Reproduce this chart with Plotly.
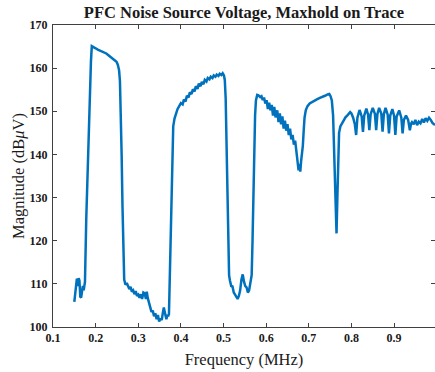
import plotly.graph_objects as go

title_text = "PFC Noise Source Voltage, Maxhold on Trace"
x_title = "Frequency (MHz)"
y_title = "Magnitude (dB<i>μ</i>V)"

x_ticks = [0.1, 0.2, 0.3, 0.4, 0.5, 0.6, 0.7, 0.8, 0.9]
y_ticks = [100, 110, 120, 130, 140, 150, 160, 170]

pts = [
    # low region before first hump
    (0.150, 105.8), (0.152, 108.0), (0.154, 110.5), (0.156, 111.2), (0.158, 109.5),
    (0.160, 111.3), (0.162, 110.8), (0.164, 107.0), (0.166, 106.8), (0.168, 109.0),
    (0.170, 109.5), (0.172, 108.5), (0.175, 110.5),
    # first hump
    (0.178, 125.0), (0.182, 140.0), (0.186, 153.0), (0.189, 161.5), (0.191, 165.1),
    (0.195, 164.8), (0.200, 164.6), (0.205, 164.3), (0.210, 164.1), (0.215, 163.9),
    (0.220, 163.6), (0.225, 163.4), (0.230, 163.0), (0.235, 162.6), (0.240, 162.2),
    (0.245, 161.9), (0.249, 161.5), (0.252, 160.8), (0.255, 159.5), (0.257, 157.0),
    (0.259, 150.0), (0.261, 140.0), (0.263, 128.0), (0.265, 117.0), (0.267, 111.0),
    # low region 1
    (0.270, 109.8), (0.273, 110.2), (0.276, 109.5), (0.279, 108.8), (0.282, 109.3),
    (0.285, 108.2), (0.288, 108.5), (0.291, 107.6), (0.294, 108.3), (0.297, 107.2),
    (0.300, 107.5), (0.303, 106.8), (0.306, 107.6), (0.309, 106.5), (0.312, 108.0),
    (0.315, 107.8), (0.318, 106.5), (0.320, 108.2), (0.322, 106.8), (0.325, 105.5),
    (0.328, 104.8), (0.331, 103.5), (0.334, 103.8), (0.337, 102.5), (0.340, 103.2),
    (0.343, 101.8), (0.346, 102.8), (0.349, 101.3), (0.352, 102.0), (0.355, 101.6),
    (0.358, 103.5), (0.360, 104.5), (0.362, 103.5), (0.364, 102.0), (0.366, 101.8),
    (0.368, 102.8), (0.370, 102.5), (0.372, 103.0),
    # second hump
    (0.374, 112.0), (0.376, 126.0), (0.378, 136.0), (0.380, 143.0), (0.382, 146.5),
    (0.385, 148.3), (0.388, 149.5), (0.392, 150.5), (0.396, 151.2), (0.400, 151.9),
    (0.404, 151.6), (0.407, 152.7), (0.411, 152.3), (0.414, 153.6), (0.418, 153.2),
    (0.421, 154.4), (0.425, 154.0), (0.428, 155.1), (0.432, 154.6), (0.435, 155.8),
    (0.439, 155.2), (0.442, 156.4), (0.446, 155.8), (0.449, 156.8), (0.453, 156.3),
    (0.456, 157.3), (0.460, 156.9), (0.463, 157.7), (0.467, 157.4), (0.470, 158.0),
    (0.474, 157.7), (0.477, 158.3), (0.481, 158.0), (0.484, 158.5), (0.488, 158.2),
    (0.491, 158.7), (0.495, 158.4), (0.498, 158.8), (0.501, 158.3), (0.503, 157.2),
    (0.505, 153.0), (0.507, 143.0), (0.509, 130.0), (0.511, 118.0), (0.513, 112.0),
    # low region 2
    (0.515, 110.8), (0.518, 109.5), (0.521, 109.4), (0.524, 108.0), (0.527, 107.5),
    (0.530, 106.8), (0.533, 106.5), (0.536, 107.2), (0.539, 108.5), (0.542, 111.0),
    (0.545, 112.2), (0.548, 110.5), (0.551, 109.5), (0.554, 109.2), (0.557, 108.0),
    (0.560, 108.5), (0.563, 110.0), (0.566, 112.0),
    # third hump
    (0.568, 120.0), (0.570, 132.0), (0.572, 142.0), (0.574, 149.0), (0.576, 152.5),
    (0.579, 153.8), (0.582, 153.7), (0.586, 153.3), (0.589, 153.5), (0.592, 152.6),
    (0.595, 153.2), (0.598, 151.8), (0.601, 152.6), (0.604, 150.5), (0.607, 152.0),
    (0.610, 150.2), (0.613, 151.5), (0.616, 149.0), (0.619, 151.0), (0.622, 148.6),
    (0.626, 150.2), (0.629, 147.5), (0.632, 149.5), (0.635, 147.0), (0.638, 148.8),
    (0.641, 146.0), (0.644, 147.8), (0.647, 145.5), (0.650, 147.0), (0.653, 144.5),
    (0.656, 146.0), (0.659, 143.5), (0.662, 144.5), (0.665, 142.3), (0.668, 143.2),
    (0.671, 140.5), (0.674, 138.0), (0.676, 136.3), (0.678, 137.8), (0.680, 136.0),
    (0.682, 138.5), (0.684, 140.0), (0.686, 142.0), (0.688, 145.5), (0.690, 148.5),
    # fourth hump
    (0.693, 150.3), (0.697, 151.2), (0.702, 151.8), (0.708, 152.2), (0.714, 152.4),
    (0.720, 152.8), (0.726, 153.1), (0.732, 153.3), (0.738, 153.6), (0.744, 153.9),
    (0.748, 154.0), (0.751, 153.5), (0.754, 152.5), (0.757, 149.0), (0.759, 143.0),
    (0.761, 137.0), (0.763, 129.0), (0.765, 121.7), (0.767, 130.0), (0.769, 140.0),
    (0.771, 145.0), (0.774, 146.5), (0.778, 147.3), (0.782, 148.0), (0.786, 148.6),
    (0.790, 149.0), (0.793, 149.3),
    # ripple region
    (0.797, 149.8), (0.800, 149.5), (0.804, 148.5), (0.808, 147.0), (0.811, 144.5),
    (0.814, 148.5), (0.819, 150.3), (0.824, 148.8), (0.827, 145.2), (0.830, 149.0),
    (0.835, 150.6), (0.839, 149.2), (0.842, 145.6), (0.845, 149.3), (0.850, 150.8),
    (0.855, 149.4), (0.858, 145.6), (0.861, 149.4), (0.865, 150.8), (0.870, 149.5),
    (0.873, 145.3), (0.876, 149.3), (0.880, 150.8), (0.885, 149.2), (0.888, 144.9),
    (0.891, 149.0), (0.896, 150.5), (0.900, 149.0), (0.903, 144.5), (0.906, 148.8),
    (0.912, 150.2), (0.917, 148.5), (0.920, 144.9), (0.923, 148.0), (0.928, 149.0),
    (0.933, 148.0), (0.937, 145.6), (0.940, 147.2),
    # tail
    (0.942, 147.5), (0.946, 147.0), (0.950, 148.0), (0.954, 146.8), (0.958, 147.6),
    (0.962, 147.2), (0.966, 148.2), (0.970, 147.4), (0.974, 148.4), (0.978, 147.8),
    (0.982, 148.5), (0.986, 148.0), (0.990, 147.3), (0.996, 146.8),
]
freq_mhz = [p[0] for p in pts]
magnitude_dbuv = [p[1] for p in pts]

fig = go.Figure()
fig.add_trace(go.Scatter(
    x=freq_mhz, y=magnitude_dbuv, mode="lines",
    line=dict(color="#0072BD", width=2.5),
    showlegend=False,
))

serif = "Liberation Serif, Times New Roman, serif"
axis_common = dict(
    showline=True, linecolor="#404040", linewidth=1,
    mirror="ticks", ticks="inside", ticklen=4, tickwidth=1, tickcolor="#404040",
    showgrid=False, zeroline=False,
    tickfont=dict(family=serif, size=12, color="#1a1a1a", weight="bold"),
)

fig.update_layout(
    width=435, height=372,
    margin=dict(l=53, r=0, t=25, b=45),
    paper_bgcolor="white", plot_bgcolor="white",
    title=dict(text="<b>" + title_text + "</b>", x=0.5, xref="paper",
               y=1 - 12 / 372, yanchor="middle",
               font=dict(family=serif, size=16.5, color="#1a1a1a")),
    xaxis=dict(range=[0.1, 0.996], tickvals=x_ticks,
               ticktext=[f"{v:.1f}" for v in x_ticks],
               title=dict(text=x_title, standoff=9,
                          font=dict(family=serif, size=16.5, color="#1a1a1a")),
               **axis_common),
    yaxis=dict(range=[100, 170], tickvals=y_ticks, ticklabelstandoff=2,
               title=dict(text=y_title, standoff=0,
                          font=dict(family=serif, size=16.5, color="#1a1a1a")),
               **axis_common),
)

fig.write_html("out.html")
